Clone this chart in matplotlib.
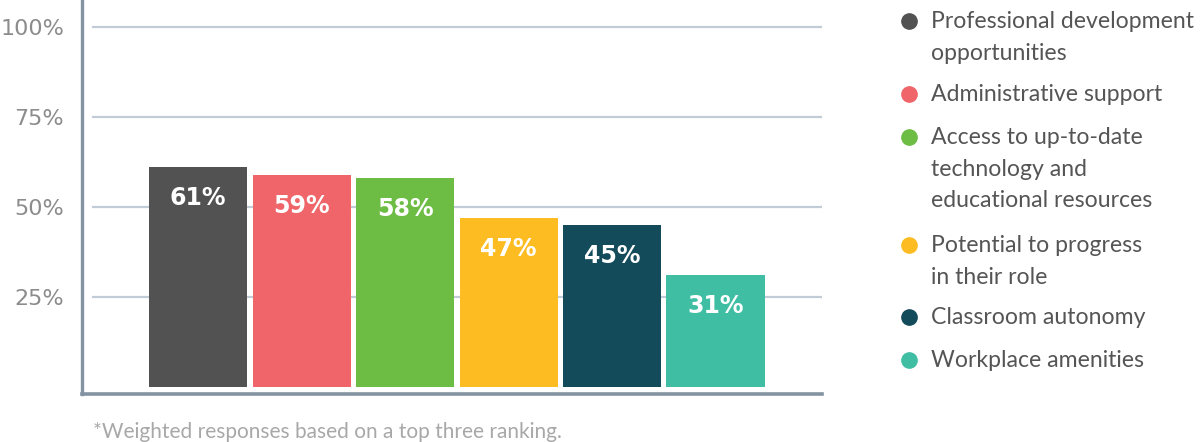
import matplotlib
matplotlib.use("Agg")
import matplotlib.pyplot as plt
from matplotlib.lines import Line2D

categories = [
    "Professional development\nopportunities",
    "Administrative support",
    "Access to up-to-date\ntechnology and\neducational resources",
    "Potential to progress\nin their role",
    "Classroom autonomy",
    "Workplace amenities",
]
values = [61, 59, 58, 47, 45, 31]
value_labels = ["61%", "59%", "58%", "47%", "45%", "31%"]
colors = ["#525252", "#ef6569", "#6dbd45", "#fdbd22", "#134b5b", "#40bea4"]
yticks = [25, 50, 75, 100]
ytick_labels = ["25%", "50%", "75%", "100%"]
footnote = "*Weighted responses based on a top three ranking."

W, H = 1200, 442
fig = plt.figure(figsize=(W / 100, H / 100), dpi=100)
ax = fig.add_axes([82 / W, 48 / H, 740 / W, 394 / H])

x = list(range(len(values)))
ax.bar(x, values, width=0.947, color=colors, zorder=3, edgecolor="none")
ax.set_xlim(-1.121, 6.029)
ax.set_ylim(-1.94, 107.5)

grid_c = "#c2ccd6"
for t in yticks:
    ax.axhline(t, xmin=11 / 740, xmax=1, color=grid_c, lw=1.6, zorder=1)

ax.set_yticks(yticks)
ax.set_yticklabels(ytick_labels)
ax.tick_params(axis="y", length=0, pad=13, labelsize=16, labelcolor="#8c8c8c")
for lab in ax.get_yticklabels():
    lab.set_fontfamily("DejaVu Sans")
ax.set_xticks([])

spine_c = "#8393a2"
for s in ["top", "right"]:
    ax.spines[s].set_visible(False)
ax.spines["left"].set_color(spine_c)
ax.spines["left"].set_linewidth(2.4)
ax.spines["bottom"].set_color(spine_c)
ax.spines["bottom"].set_linewidth(2.6)

for xi, v, lab in zip(x, values, value_labels):
    ax.annotate(lab, (xi, v), xytext=(0, -22.3), textcoords="offset points",
                ha="center", va="center", color="white", fontsize=17,
                fontweight="bold", family="DejaVu Sans", zorder=4)

# legend drawn as figure-level markers and texts
row_y = [21, 94, 137, 245, 317, 360]
for c, lab, yy in zip(colors, categories, row_y):
    fig.add_artist(Line2D([909 / W], [1 - yy / H], marker="o", markersize=11,
                          markerfacecolor=c, markeredgecolor=c,
                          linestyle="none", transform=fig.transFigure))
    fig.text(931 / W, 1 - (yy - 10) / H, lab, ha="left", va="top",
             fontsize=16.6, family="Lato", color="#555555", linespacing=1.62)

fig.text(93 / W, 1 - 432 / H, footnote, ha="left", va="center",
         fontsize=15, color="#a8a8a8", family="Lato")

fig.savefig("out.png", dpi=100)
